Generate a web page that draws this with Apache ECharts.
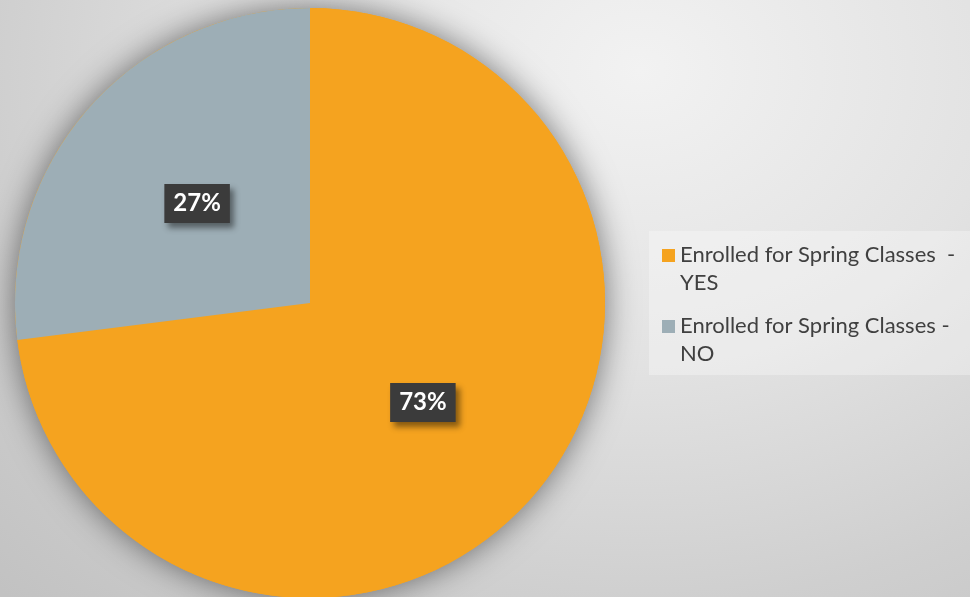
<!DOCTYPE html>
<html>
<head>
<meta charset="utf-8">
<script src="https://cdn.jsdelivr.net/npm/echarts@6/dist/echarts.min.js"></script>
<style>
  html, body { margin: 0; padding: 0; }
  #chart {
    width: 970px; height: 597px;
    background: radial-gradient(ellipse 900px 740px at 640px 70px, #f2f2f2 0%, #e2e2e2 40%, #cfcfcf 72%, #c2c2c2 100%);
  }
</style>
</head>
<body>
<div id="chart"></div>
<script>
// Enrollment split
const categories = ['Enrolled for Spring Classes  -\nYES', 'Enrolled for Spring Classes -\nNO'];
const values = [73, 27];
const colors = ['#F5A31F', '#9DAEB6'];

const total = values.reduce((a, b) => a + b, 0);
const chart = echarts.init(document.getElementById('chart'), null, { renderer: 'canvas' });

const pieCenter = [310, 303];
const pieRadius = 295;

chart.setOption({
  animation: false,
  legend: {
    data: categories,
    orient: 'vertical',
    left: 649,
    top: 231,
    padding: [10, 40, 7, 13],
    itemGap: 15,
    itemWidth: 13,
    itemHeight: 40,
    // square at the top of the item so it sits beside the first text line
    icon: 'path://M0,0h13v13h-13zM0,40h0.01v0.01h-0.01z',
    backgroundColor: 'rgba(255,255,255,0.3)',
    selectedMode: false,
    textStyle: {
      fontFamily: 'Lato',
      fontSize: 22,
      lineHeight: 28,
      color: '#404040'
    }
  },
  series: [
    {
      // soft drop shadow under the whole disc
      type: 'pie',
      silent: true,
      center: pieCenter,
      radius: pieRadius,
      label: { show: false },
      labelLine: { show: false },
      data: [{ name: '', value: total, itemStyle: { color: colors[0] } }],
      itemStyle: { shadowBlur: 32, shadowColor: 'rgba(0,0,0,0.5)' },
      z: 1
    },
    {
      type: 'pie',
      center: pieCenter,
      radius: pieRadius,
      startAngle: 90,
      clockwise: true,
      z: 2,
      data: categories.map((name, i) => ({
        name,
        value: values[i],
        itemStyle: { color: colors[i] }
      })),
      label: {
        show: true,
        position: 'inside',
        formatter: p => p.value + '%',
        fontFamily: 'Lato',
        fontWeight: 'bold',
        fontSize: 24,
        color: '#ffffff',
        backgroundColor: '#3b3b3b',
        padding: [8, 9, 7, 9],
        shadowBlur: 6,
        shadowOffsetX: 4,
        shadowOffsetY: 5,
        shadowColor: 'rgba(0,0,0,0.45)'
      },
      labelLine: { show: false },
      emphasis: { disabled: true }
    }
  ]
});
</script>
</body>
</html>
